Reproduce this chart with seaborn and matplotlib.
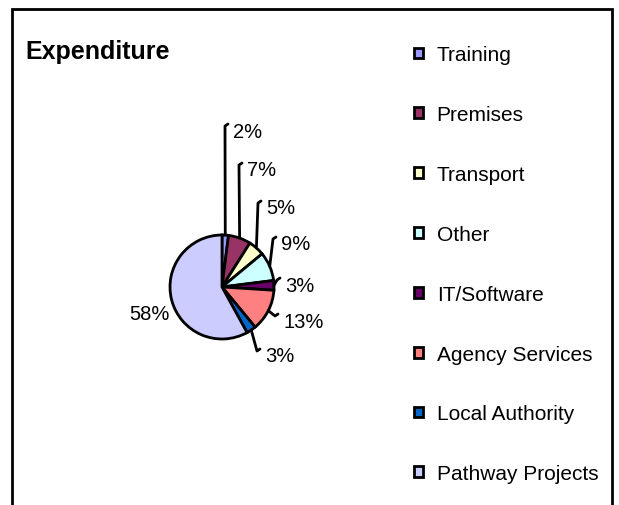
import matplotlib
matplotlib.use("Agg")
import matplotlib.pyplot as plt
import matplotlib.patches as mpatches
import numpy as np
import seaborn as sns

# data
categories = ["Training", "Premises", "Transport", "Other", "IT/Software",
              "Agency Services", "Local Authority", "Pathway Projects"]
shares = [2, 7, 5, 9, 3, 13, 3, 58]
pct_labels = ["2%", "7%", "5%", "9%", "3%", "13%", "3%", "58%"]

# excel-ish palette
colors = ["#9999FF", "#993366", "#FFFFCC", "#CCFFFF", "#660066",
          "#FF8080", "#0066CC", "#CCCCFF"]

# label anchors in pixels (left x, centre y, from top); last one has no leader
label_pos = [(233, 132), (247, 171), (266, 209), (281, 245), (285, 286),
             (283, 322), (265, 357), (170, 314)]
leader = [True, True, True, True, True, True, True, False]

sns.set_style("white")
plt.rcParams["font.family"] = ["Liberation Sans", "DejaVu Sans"]
plt.rcParams["text.color"] = "black"

W, H = 619, 506
fig = plt.figure(figsize=(W / 100, H / 100), dpi=100)
ax = fig.add_axes([0, 0, 1, 1])

cx, cy, R = 222, H - 288, 52
wedges, _ = ax.pie(shares, colors=colors, startangle=90, counterclock=False,
                   center=(cx, cy), radius=R, frame=True,
                   wedgeprops=dict(edgecolor="black", linewidth=2))
ax.set_xlim(0, W)
ax.set_ylim(0, H)
ax.set_axis_off()

for w, txt, (tx, ty), has_line in zip(wedges, pct_labels, label_pos, leader):
    ty = H - ty
    if has_line:
        th = np.deg2rad((w.theta1 + w.theta2) / 2)
        ex, ey = cx + R * np.cos(th), cy + R * np.sin(th)
        ax.plot([ex, tx - 8, tx - 5], [ey, ty + 5, ty + 7],
                color="black", lw=2, solid_capstyle="round", clip_on=False)
        ax.text(tx, ty, txt, ha="left", va="center", fontsize=14.5)
    else:
        ax.text(tx, ty, txt, ha="right", va="center", fontsize=14.5)

ax.text(25, H - 52, "Expenditure", fontsize=18, fontweight="bold",
        ha="left", va="center")

handles = [mpatches.Patch(facecolor=c, edgecolor="black", linewidth=2)
           for c in colors]
fig.legend(handles, categories, loc="upper left",
           bbox_to_anchor=(404 / W, 1 - 36 / H), frameon=False,
           fontsize=15, handlelength=0.42, handleheight=0.42,
           handletextpad=0.65, labelspacing=1.96, borderpad=0)

# chart area border (bottom edge falls outside the image)
fig.patches.append(mpatches.Rectangle((12 / W, -0.05), 600 / W, 1.05 - 10 / H,
                                      transform=fig.transFigure, fill=False,
                                      edgecolor="black", linewidth=2))

fig.savefig("out.png", dpi=100)
